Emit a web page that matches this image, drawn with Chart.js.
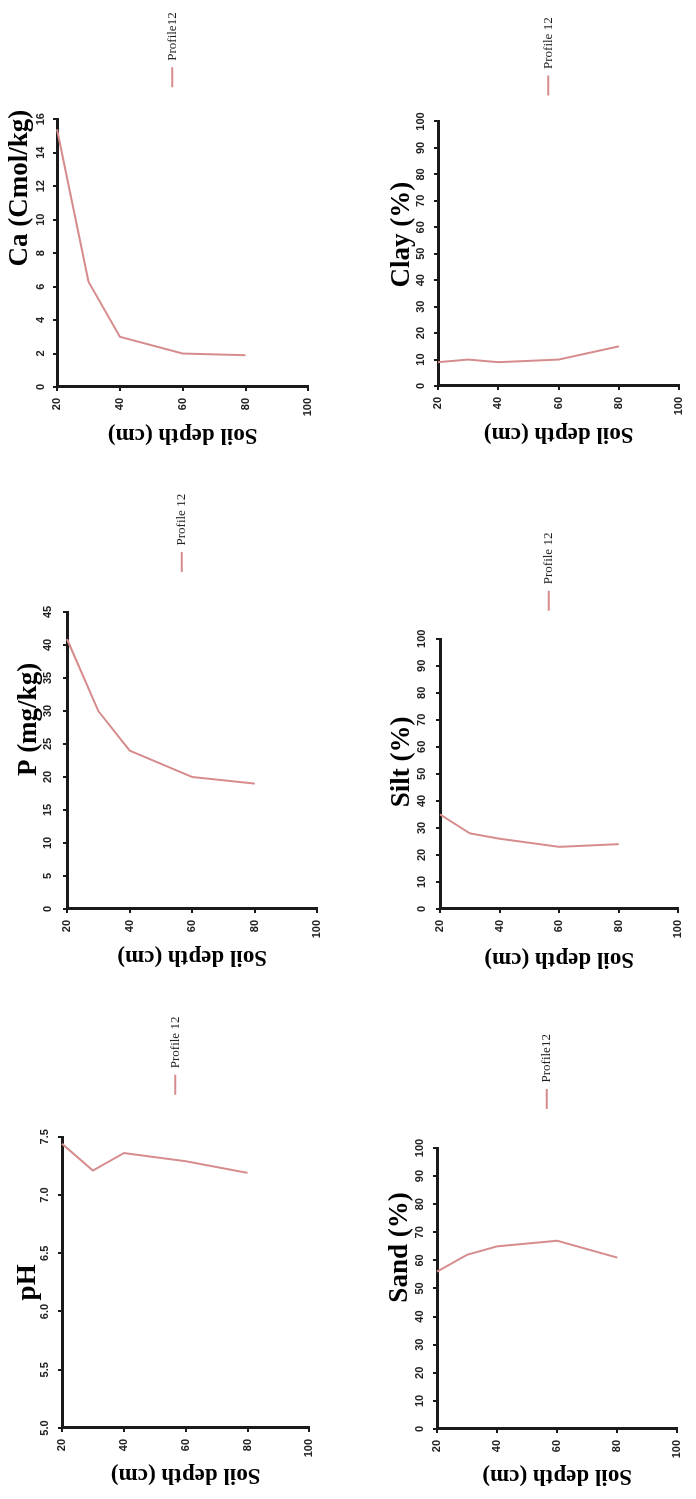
<!DOCTYPE html>
<html lang="en">
<head>
<meta charset="UTF-8">
<title>Profile 12 - soil properties with depth</title>
<script src="https://cdn.jsdelivr.net/npm/chart.js"></script>
<style>
  body { margin: 0; background: #fff; }
  #page { position: relative; width: 696px; height: 1499px; overflow: hidden; }
  /* panels are laid out landscape (depth down the side), then the whole sheet is turned a quarter */
  #sheet {
    position: absolute; left: 0; top: 0;
    width: 1499px; height: 696px;
    transform-origin: 0 0;
    transform: translateY(1499px) rotate(-90deg);
  }
  #sheet canvas { position: absolute; }
</style>
</head>
<body>
<div id="page"><div id="sheet"></div></div>

<script>
// sampled depths (cm)
const depths = [20, 30, 40, 60, 80];

// Profile 12 values at each depth
const phValues   = [7.44, 7.21, 7.36, 7.29, 7.19];
const pValues    = [40.9, 30, 24, 20, 19];
const caValues   = [15.4, 6.3, 3.0, 2.0, 1.9];
const sandValues = [56, 62, 65, 67, 61];
const siltValues = [35, 28, 26, 23, 24];
const clayValues = [9, 10, 9, 10, 15];

const lineColor = '#d68c8c';
const axisColor = '#1a1a1a';

// cx/cy = canvas corner, plot = [left, top, right, bottom] of the plot area,
// gap = space between plot and legend line, vtc/dtc = centres of the axis titles,
// tshift = how far the value title sits off the middle of its axis
const panels = [
  { title: 'pH', values: phValues, min: 5, max: 7.5, step: 0.5, dec: 1, legend: 'Profile 12',
    cx: 0, cy: 0, plot: [71, 62, 362, 313], gap: 42, vtc: 28, dtc: 24, vtg: 10, tshift: 0 },
  { title: 'P (mg/kg)', values: pValues, min: 0, max: 45, step: 5, dec: 0, legend: 'Profile 12',
    cx: 518, cy: 0, plot: [590, 67, 891, 321], gap: 40, vtc: 29, dtc: 542, vtg: 12, tshift: 41 },
  { title: 'Ca (Cmol/kg)', values: caValues, min: 0, max: 16, step: 2, dec: 0, legend: 'Profile12',
    cx: 1040, cy: 0, plot: [1112, 57, 1385, 312], gap: 32, vtc: 20, dtc: 1064, vtg: 9, tshift: 65 },
  { title: 'Sand (%)', values: sandValues, min: 0, max: 100, step: 10, dec: 0, legend: 'Profile12',
    cx: 0, cy: 360, plot: [70, 437, 353, 681], gap: 39, vtc: 400, dtc: 23, vtg: 10, tshift: 41 },
  { title: 'Silt (%)', values: siltValues, min: 0, max: 100, step: 10, dec: 0, legend: 'Profile 12',
    cx: 516, cy: 360, plot: [590, 440, 868, 682], gap: 28, vtc: 402, dtc: 540, vtg: 11, tshift: 12 },
  { title: 'Clay (%)', values: clayValues, min: 0, max: 100, step: 10, dec: 0, legend: 'Profile 12',
    cx: 1040, cy: 360, plot: [1113, 438, 1385, 683], gap: 26, vtc: 402, dtc: 1065, vtg: 10, tshift: 19 }
];

const tickFont = { family: 'Liberation Sans', size: 11, weight: 'bold' };
const legendFont = { family: 'Liberation Serif', size: 13 };

const meas = document.createElement('canvas').getContext('2d');
meas.font = '13px Liberation Serif';

// legend sits a little above the middle of the plot in the original
const legendNudge = {
  id: 'legendNudge',
  afterLayout(chart) {
    chart.legend.top -= 10.5;
    chart.legend.bottom -= 10.5;
  }
};

function makePanel(p) {
  const [pl, pt, pr, pb] = p.plot;
  const legendW = p.gap + 20 + legendFont.size / 2 + meas.measureText(p.legend).width + 1;
  const canvas = document.createElement('canvas');
  canvas.width = Math.round(pr - p.cx + legendW);
  canvas.height = pb + 10 - p.cy;
  canvas.style.left = p.cx + 'px';
  canvas.style.top = p.cy + 'px';
  document.getElementById('sheet').appendChild(canvas);

  const topH = pt - p.cy;
  const leftW = pl - p.cx;

  // value-axis title, drawn above the axis but not always centred on it
  const valueTitle = {
    id: 'valueTitle',
    afterDraw(chart) {
      const { ctx, chartArea } = chart;
      ctx.save();
      ctx.font = 'bold 27px Liberation Serif';
      ctx.fillStyle = '#000';
      ctx.textAlign = 'center';
      ctx.textBaseline = 'middle';
      ctx.fillText(p.title, (chartArea.left + chartArea.right) / 2 + p.tshift, p.vtc - p.cy);
      ctx.restore();
    }
  };

  new Chart(canvas, {
    type: 'line',
    data: {
      datasets: [{
        label: p.legend,
        data: depths.map((d, i) => ({ x: p.values[i], y: d })),
        borderColor: lineColor,
        backgroundColor: lineColor,
        borderWidth: 2,
        pointRadius: 0,
        tension: 0,
        clip: false
      }]
    },
    options: {
      responsive: false,
      animation: false,
      events: [],
      layout: { padding: { left: 0, top: 0, right: 0, bottom: 10 } },
      plugins: {
        tooltip: { enabled: false },
        legend: {
          position: 'right',
          fullSize: false,
          align: 'center',
          labels: {
            usePointStyle: true,
            pointStyle: 'line',
            pointStyleWidth: 20,
            padding: p.gap,
            color: '#222',
            font: legendFont
          }
        }
      },
      scales: {
        x: {
          type: 'linear',
          position: 'top',
          min: p.min,
          max: p.max,
          ticks: {
            stepSize: p.step,
            autoSkip: false,
            maxRotation: 0,
            padding: p.vtg - 4,
            color: '#222',
            font: tickFont,
            callback: v => v.toFixed(p.dec)
          },
          grid: { drawOnChartArea: false, drawTicks: true, tickLength: 4, color: axisColor, lineWidth: 2 },
          border: { display: true, color: axisColor, width: 3 },
          title: { display: false },
          afterFit: s => { s.height = topH; }
        },
        y: {
          type: 'linear',
          position: 'left',
          reverse: true,
          min: 20,
          max: 100,
          ticks: {
            stepSize: 20,
            autoSkip: false,
            padding: 7,
            color: '#222',
            font: tickFont
          },
          grid: { drawOnChartArea: false, drawTicks: true, tickLength: 4, color: axisColor, lineWidth: 2 },
          border: { display: true, color: axisColor, width: 3 },
          title: {
            display: true,
            text: 'Soil depth (cm)',
            color: '#000',
            font: { family: 'Liberation Serif', size: 23, weight: 'bold' },
            padding: { top: p.dtc - p.cx - 13.8, bottom: 0 }
          },
          afterFit: s => { s.width = leftW; }
        }
      }
    },
    plugins: [legendNudge, valueTitle]
  });
}

panels.forEach(makePanel);
</script>
</body>
</html>
